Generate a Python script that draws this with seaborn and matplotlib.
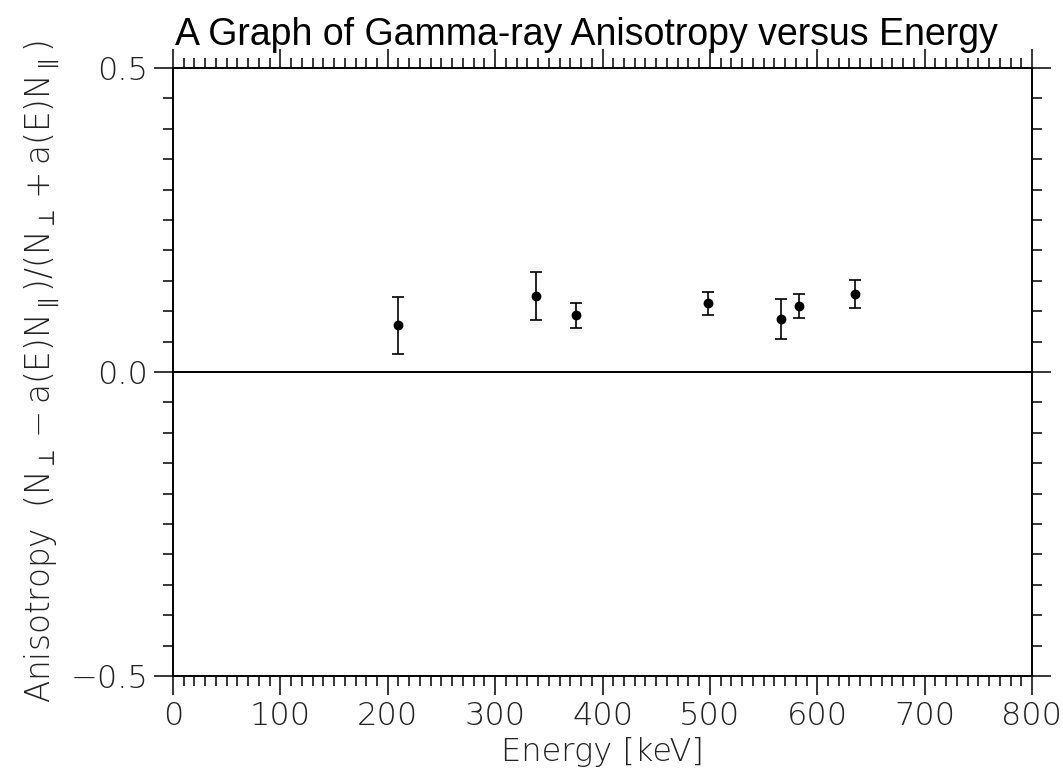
import numpy as np
import pandas as pd
import matplotlib
matplotlib.use("Agg")
import matplotlib.pyplot as plt
import seaborn as sns
from matplotlib.ticker import MultipleLocator

# ---- data ----
energy = [210, 338, 375, 498, 566, 583, 635]
anisotropy = [0.077, 0.125, 0.093, 0.113, 0.087, 0.109, 0.128]
error = [0.047, 0.040, 0.021, 0.019, 0.033, 0.020, 0.023]
x_ticks = [0, 100, 200, 300, 400, 500, 600, 700, 800]
y_ticks = [-0.5, 0.0, 0.5]
y_tick_labels = ["\u22120.5", "0.0", "0.5"]

sns.set_theme(style="white")
plt.rcParams['font.family'] = ['DejaVu Sans']
plt.rcParams['mathtext.default'] = 'regular'

df = pd.DataFrame({"Energy": energy, "Anisotropy": anisotropy, "err": error})

fig = plt.figure(figsize=(10.63, 7.70), dpi=100)
ax = fig.add_axes([173/1063, 1-676/770, (1032-173)/1063, (676-68)/770])

ax.axhline(0, color="black", lw=1.4, zorder=1)
ax.errorbar(df["Energy"], df["Anisotropy"], yerr=df["err"], fmt="none",
            ecolor="black", elinewidth=1.2, capsize=4.5, capthick=1.2, zorder=2)
sns.scatterplot(data=df, x="Energy", y="Anisotropy", ax=ax, color="black",
                s=50, edgecolor="black", linewidth=0, zorder=3, legend=False)

ax.set_xlim(0, 800)
ax.set_ylim(-0.5, 0.5)
ax.set_xticks(x_ticks)
ax.set_xticklabels([str(v) for v in x_ticks])
ax.set_yticks(y_ticks)
ax.set_yticklabels(y_tick_labels)
ax.xaxis.set_minor_locator(MultipleLocator(10))
ax.yaxis.set_minor_locator(MultipleLocator(0.05))

for s in ax.spines.values():
    s.set_visible(True)
    s.set_color("black")
    s.set_linewidth(1.4)

ax.tick_params(which="both", direction="out", top=True, right=True,
               bottom=True, left=True, color="black", width=1.1)
ax.tick_params(which="major", length=14, labelsize=23, pad=4,
               labelcolor="#222222")
ax.tick_params(which="minor", length=7)
for lab in ax.get_xticklabels() + ax.get_yticklabels():
    lab.set_fontweight("light")

ax.set_xlabel("Energy [keV]", fontsize=23, fontweight="light",
              color="#222222", labelpad=4)
ax.set_ylabel(r"Anisotropy  $(N_{\perp}-a(E)N_{\parallel})/(N_{\perp}+a(E)N_{\parallel})$",
              fontsize=23.5, fontweight="light", color="#222222", labelpad=6)

fig.text(586/1063, 1-35/770, "A Graph of Gamma-ray Anisotropy versus Energy",
         ha="center", va="center", fontsize=27, fontweight="normal",
         family=["Liberation Sans Narrow", "Liberation Sans", "DejaVu Sans"],
         color="black")

fig.savefig("out.png", dpi=100)
